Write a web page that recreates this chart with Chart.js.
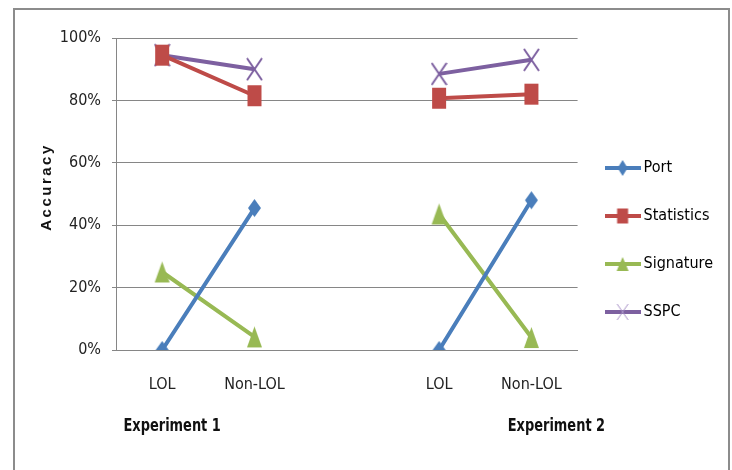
<!DOCTYPE html>
<html>
<head>
<meta charset="utf-8">
<script src="https://cdn.jsdelivr.net/npm/chart.js@4.4.1/dist/chart.umd.min.js"></script>
<style>
  html, body { margin: 0; padding: 0; background: #fff; }
  #wrap { position: relative; width: 732px; height: 470px; overflow: hidden; }
  #frame { position: absolute; left: 13px; top: 8px; width: 713px; height: 480px;
           border: 2px solid #8c8c8c; border-bottom: none; pointer-events: none; }
  canvas { position: absolute; left: 0; top: 0; }
</style>
</head>
<body>
<div id="wrap">
  <canvas id="chart" width="732" height="470"></canvas>
  <div id="frame"></div>
</div>
<script>
// data (percent)
const categories = ['LOL', 'Non-LOL', '', 'LOL', 'Non-LOL'];
const groupNames = ['Experiment 1', 'Experiment 2'];
const seriesNames = ['Port', 'Statistics', 'Signature', 'SSPC'];
const port       = [0, 45.5, null, 0, 48];
const statistics = [94.5, 81.5, null, 80.7, 82];
const signature  = [25, 4.2, null, 43.6, 4];
const sspc       = [94.5, 90, null, 88.5, 93];

const FONT = "'DejaVu Sans Condensed', 'Liberation Sans Narrow', sans-serif";
const colors = ['#4A7EBB', '#BE4B48', '#98B954', '#7D60A0'];

// draws one marker shape on a small canvas, used as pointStyle
function drawShape(g, shape, cx, cy, w, h, color, lw) {
    g.fillStyle = color;
    g.strokeStyle = color;
    g.lineWidth = lw || 1;
    g.beginPath();
    if (shape === 'diamond') {
        g.moveTo(cx, cy - h / 2); g.lineTo(cx + w / 2, cy);
        g.lineTo(cx, cy + h / 2); g.lineTo(cx - w / 2, cy);
        g.closePath(); g.fill();
    } else if (shape === 'square') {
        g.rect(cx - w / 2, cy - h / 2, w, h); g.fill();
    } else if (shape === 'triangle') {
        g.moveTo(cx, cy - h / 2); g.lineTo(cx + w / 2, cy + h / 2);
        g.lineTo(cx - w / 2, cy + h / 2); g.closePath(); g.fill();
    } else if (shape === 'cross') {
        g.moveTo(cx - w / 2, cy - h / 2); g.lineTo(cx + w / 2, cy + h / 2);
        g.moveTo(cx + w / 2, cy - h / 2); g.lineTo(cx - w / 2, cy + h / 2);
        g.stroke();
    }
}

function marker(shape, w, h, color, lw) {
    const c = document.createElement('canvas');
    c.width = w + 2; c.height = h + 2;
    drawShape(c.getContext('2d'), shape, (w + 2) / 2, (h + 2) / 2, w, h, color, lw);
    return c;
}

function legendIcon(shape, w, h, color, lw, mcolor) {
    const c = document.createElement('canvas');
    c.width = 36; c.height = 20;
    const g = c.getContext('2d');
    g.strokeStyle = color;
    g.lineWidth = 4;
    g.beginPath(); g.moveTo(0, 10); g.lineTo(36, 10); g.stroke();
    drawShape(g, shape, 18, 10, w, h, mcolor || color, lw);
    return c;
}

const pointImgs = [
    marker('diamond', 13, 18, colors[0]),
    marker('square', 14, 21, colors[1]),
    marker('triangle', 15, 21, colors[2]),
    marker('cross', 15, 22, colors[3], 2)
];
const legendImgs = [
    legendIcon('diamond', 10, 16, colors[0]),
    legendIcon('square', 11, 15, colors[1]),
    legendIcon('triangle', 12, 14, colors[2]),
    legendIcon('cross', 11, 16, colors[3], 1, '#A993C8')
];

const seriesData = [port, statistics, signature, sspc];
const datasets = seriesNames.map((name, i) => ({
    label: name,
    data: seriesData[i],
    borderColor: colors[i],
    backgroundColor: colors[i],
    borderWidth: 4,
    tension: 0,
    spanGaps: false,
    pointStyle: pointImgs[i]
}));

// axis title and the two group labels under the x axis
const extraText = {
    id: 'extraText',
    afterDraw(chart) {
        const { ctx, chartArea, scales } = chart;
        ctx.save();
        ctx.fillStyle = '#111';
        ctx.font = "bold 15px 'Liberation Sans', Arial, sans-serif";
        ctx.letterSpacing = '2.5px';
        ctx.translate(47, (chartArea.top + chartArea.bottom) / 2 - 7);
        ctx.rotate(-Math.PI / 2);
        ctx.textAlign = 'center';
        ctx.textBaseline = 'middle';
        ctx.fillText('Accuracy', 0, 0);
        ctx.restore();

        // group labels, squeezed a little to look like the narrow original font
        const x = scales.x;
        const spots = [x.getPixelForValue(0) + 10, x.getPixelForValue(4) + 25];
        groupNames.forEach((name, i) => {
            ctx.save();
            ctx.fillStyle = '#111';
            ctx.font = 'bold 18px ' + FONT;
            ctx.textAlign = 'center';
            ctx.textBaseline = 'middle';
            ctx.translate(spots[i], 426);
            ctx.scale(0.8, 1);
            ctx.fillText(name, 0, 0);
            ctx.restore();
        });
    }
};

new Chart(document.getElementById('chart'), {
    type: 'line',
    data: { labels: categories, datasets },
    options: {
        responsive: false,
        animation: false,
        events: [],
        layout: { padding: { left: 0, right: 9, top: 38, bottom: 28 } },
        scales: {
            x: {
                offset: true,
                grid: { display: false, drawTicks: false, offset: true },
                border: { display: true, color: '#868686', width: 1 },
                ticks: { padding: 25, color: '#222', font: { family: FONT, size: 16 }, maxRotation: 0, autoSkip: false },
                afterFit(scale) { scale.height = 92; }
            },
            y: {
                min: 0,
                max: 100,
                ticks: {
                    stepSize: 20,
                    padding: 11,
                    color: '#222',
                    font: { family: FONT, size: 16 },
                    callback: v => v + '%'
                },
                grid: { color: '#868686', lineWidth: 1, tickLength: 4 },
                border: { display: true, color: '#868686', width: 1 },
                afterFit(scale) { scale.width = 116; }
            }
        },
        plugins: {
            tooltip: { enabled: false },
            legend: {
                position: 'right',
                align: 'center',
                maxWidth: 155,
                labels: {
                    usePointStyle: true,
                    pointStyleWidth: 26,
                    padding: 32,
                    color: '#111',
                    font: { family: FONT, size: 16 },
                    generateLabels(chart) {
                        return chart.data.datasets.map((ds, i) => ({
                            text: ds.label,
                            pointStyle: legendImgs[i],
                            fillStyle: ds.borderColor,
                            strokeStyle: ds.borderColor,
                            lineWidth: 0,
                            hidden: false,
                            datasetIndex: i
                        }));
                    }
                }
            }
        }
    },
    plugins: [extraText]
});
</script>
</body>
</html>
